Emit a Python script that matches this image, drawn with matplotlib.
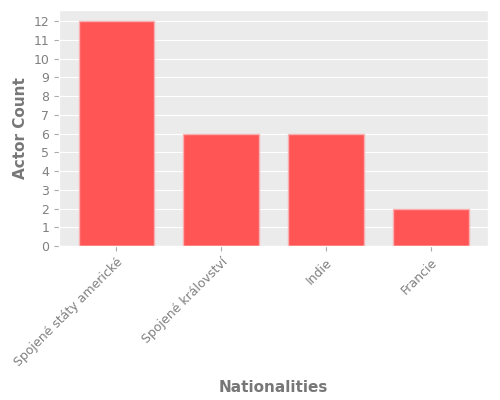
import matplotlib
matplotlib.use('Agg')
import matplotlib.pyplot as plt

plt.style.use('ggplot')

nationalities = ['Spojené státy americké', 'Spojené království', 'Indie', 'Francie']
actor_counts = [12, 6, 6, 2]

fig, ax = plt.subplots(figsize=(5, 4), dpi=100)
ax.set_facecolor('#ebebeb')
ax.bar(nationalities, actor_counts, width=0.72, color='#ff5555', edgecolor='#f8b0b0', linewidth=1)
ax.set_yticks(range(0, 13))
ax.set_xlabel('Nationalities', fontweight='bold', color='#777777', fontsize=11, labelpad=8)
ax.set_ylabel('Actor Count', fontweight='bold', color='#777777', fontsize=11)
ax.tick_params(axis='x', labelrotation=45, labelsize=9, colors='#aaaaaa', labelcolor='#808080')
ax.tick_params(axis='y', labelsize=9, colors='#aaaaaa', labelcolor='#808080')
for lab in ax.get_xticklabels():
    lab.set_ha('right')
    lab.set_rotation_mode('anchor')
ax.grid(axis='x', visible=False)
fig.subplots_adjust(left=0.118, right=0.976, top=0.975, bottom=0.385)
fig.savefig('out.png')
